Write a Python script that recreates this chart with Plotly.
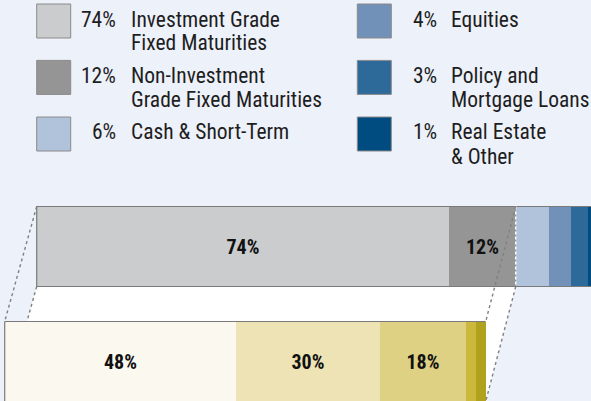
import plotly.graph_objects as go

# ---------------- data ----------------
top_pcts = [74, 12, 6, 4, 3, 1]
top_labels = [
    "Investment Grade<br>Fixed Maturities",
    "Non-Investment<br>Grade Fixed Maturities",
    "Cash & Short-Term",
    "Equities",
    "Policy and<br>Mortgage Loans",
    "Real Estate<br>& Other",
]
top_colors = ["#CBCCCE", "#959595", "#B1C2DB", "#7191B9", "#2D6A9A", "#004B7F"]

bottom_pcts = [48, 30, 18, 2, 2]
bottom_colors = ["#FBF8EF", "#EDE3B4", "#DFD183", "#CCB83B", "#B0A11F"]

expanded_count = 2  # the bottom bar details the first two top segments

# ---------------- layout constants ----------------
W, H = 591, 401
BG = "#EDF1FA"
TXT = "#1E1E1E"
FONT = "Roboto Condensed, Liberation Sans Narrow, Arial Narrow, sans-serif"
EDGE = "#7A7A7A"

TOP_Y0, TOP_Y1 = 206.5, 286.5
BOT_Y0, BOT_Y1 = 321.5, 401.5
TOP_C, BOT_C = (TOP_Y0 + TOP_Y1) / 2, (BOT_Y0 + BOT_Y1) / 2
BAR_H = TOP_Y1 - TOP_Y0

# pixel scale of each axis (left px, px per percent)
x1_left, x1_scale = 36.7, 5.57
x2_left, x2_scale = 4.7, 4.81
x1_range = [(0 - x1_left) / x1_scale, (W - x1_left) / x1_scale]
x2_range = [(0 - x2_left) / x2_scale, (W - x2_left) / x2_scale]


def to_paper(v, rng):
    return (v - rng[0]) / (rng[1] - rng[0])


fig = go.Figure()

bar_font = dict(family=FONT, size=20, color="#111111", weight="bold")
for v, c in zip(top_pcts, top_colors):
    fig.add_trace(go.Bar(
        x=[v], y=[TOP_C], orientation="h", width=BAR_H,
        marker=dict(color=c, line=dict(width=0)),
        text=[f"{v}%" if v >= 10 else ""],
        textposition="inside", insidetextanchor="middle", textangle=0,
        textfont=bar_font,
        xaxis="x", yaxis="y", hoverinfo="skip", showlegend=False,
    ))

for v, c in zip(bottom_pcts, bottom_colors):
    fig.add_trace(go.Bar(
        x=[v], y=[BOT_C], orientation="h", width=BAR_H,
        marker=dict(color=c, line=dict(width=0)),
        text=[f"{v}%" if v >= 10 else ""],
        textposition="inside", insidetextanchor="middle", textangle=0,
        textfont=bar_font,
        xaxis="x2", yaxis="y", hoverinfo="skip", showlegend=False,
    ))

shapes = []
top_total = sum(top_pcts)
bot_total = sum(bottom_pcts)
split = sum(top_pcts[:expanded_count])

pL_top = to_paper(0, x1_range)
pR_top = to_paper(split, x1_range)
pL_bot = to_paper(0, x2_range)
pR_bot = to_paper(bot_total, x2_range)

# white projection band
shapes.append(dict(
    type="path", xref="paper", yref="y", layer="below",
    path=f"M {pL_top},{TOP_Y1} L {pR_top},{TOP_Y1} L {pR_bot},{BOT_Y1} L {pL_bot},{BOT_Y1} Z",
    fillcolor="white", line=dict(width=0),
))
dot = dict(color="#808080", width=1.4, dash="3px,3px")
# inner connectors (behind bars)
for a, b in [(pL_top, pL_bot), (pR_top, pR_bot)]:
    shapes.append(dict(type="line", xref="paper", yref="y", layer="below",
                       x0=a, y0=TOP_Y1, x1=b, y1=BOT_Y1, line=dot))
# top bar outline
shapes.append(dict(type="rect", xref="x", yref="y", layer="above",
                   x0=0, x1=top_total, y0=TOP_Y0, y1=TOP_Y1,
                   line=dict(color=EDGE, width=1.2), fillcolor="rgba(0,0,0,0)"))
# bottom bar top + left edges
shapes.append(dict(type="line", xref="x2", yref="y", layer="above",
                   x0=0, x1=bot_total, y0=BOT_Y0, y1=BOT_Y0,
                   line=dict(color=EDGE, width=1.2)))
shapes.append(dict(type="line", xref="x2", yref="y", layer="above",
                   x0=0, x1=0, y0=BOT_Y0, y1=BOT_Y1,
                   line=dict(color=EDGE, width=1.2)))
# white dashed separator at split
shapes.append(dict(type="line", xref="x", yref="y", layer="above",
                   x0=split, x1=split, y0=TOP_Y0, y1=TOP_Y1,
                   line=dict(color="white", width=1.5, dash="3px,2px")))
# outer connectors
for a, b in [(pL_top, pL_bot), (pR_top, pR_bot)]:
    shapes.append(dict(type="line", xref="paper", yref="y", layer="above",
                       x0=a, y0=TOP_Y0, x1=b, y1=BOT_Y0, line=dot))

# ---------------- custom legend ----------------
annotations = []
col_x = [36.7, 357.3]
row_y = [4.0, 60.4, 117.0]
SQ = 34
for i, (v, lab, c) in enumerate(zip(top_pcts, top_labels, top_colors)):
    cx = col_x[i // 3]
    ry = row_y[i % 3]
    shapes.append(dict(type="rect", xref="paper", yref="paper",
                       x0=cx / W, x1=(cx + SQ) / W,
                       y0=1 - ry / H, y1=1 - (ry + SQ) / H,
                       fillcolor=c, line=dict(color="#8A8A8A", width=1)))
    base = ry + 22.5
    annotations.append(dict(
        xref="paper", yref="paper", x=(cx + 81.5) / W, y=1 - (base - 7.5) / H,
        xanchor="right", yanchor="middle", showarrow=False, text=f"{v}%",
        font=dict(family=FONT, size=21.5, color=TXT),
    ))
    for j, line in enumerate(lab.split("<br>")):
        annotations.append(dict(
            xref="paper", yref="paper", x=(cx + 92) / W,
            y=1 - (base + 24 * j - 7.5) / H,
            xanchor="left", yanchor="middle", showarrow=False, text=line,
            font=dict(family=FONT, size=21.5, color=TXT),
        ))

fig.update_layout(
    width=W, height=H,
    margin=dict(l=0, r=0, t=0, b=0),
    paper_bgcolor=BG, plot_bgcolor=BG,
    barmode="stack", bargap=0,
    xaxis=dict(range=x1_range, visible=False, fixedrange=True),
    xaxis2=dict(range=x2_range, visible=False, overlaying="x", anchor="y", fixedrange=True),
    yaxis=dict(range=[H, 0], visible=False, fixedrange=True),
    shapes=shapes, annotations=annotations,
    showlegend=False,
    uniformtext=dict(minsize=8, mode="show"),
)

fig.write_html("out.html", config={"displayModeBar": False},
               post_script="document.body.style.margin='0';")
